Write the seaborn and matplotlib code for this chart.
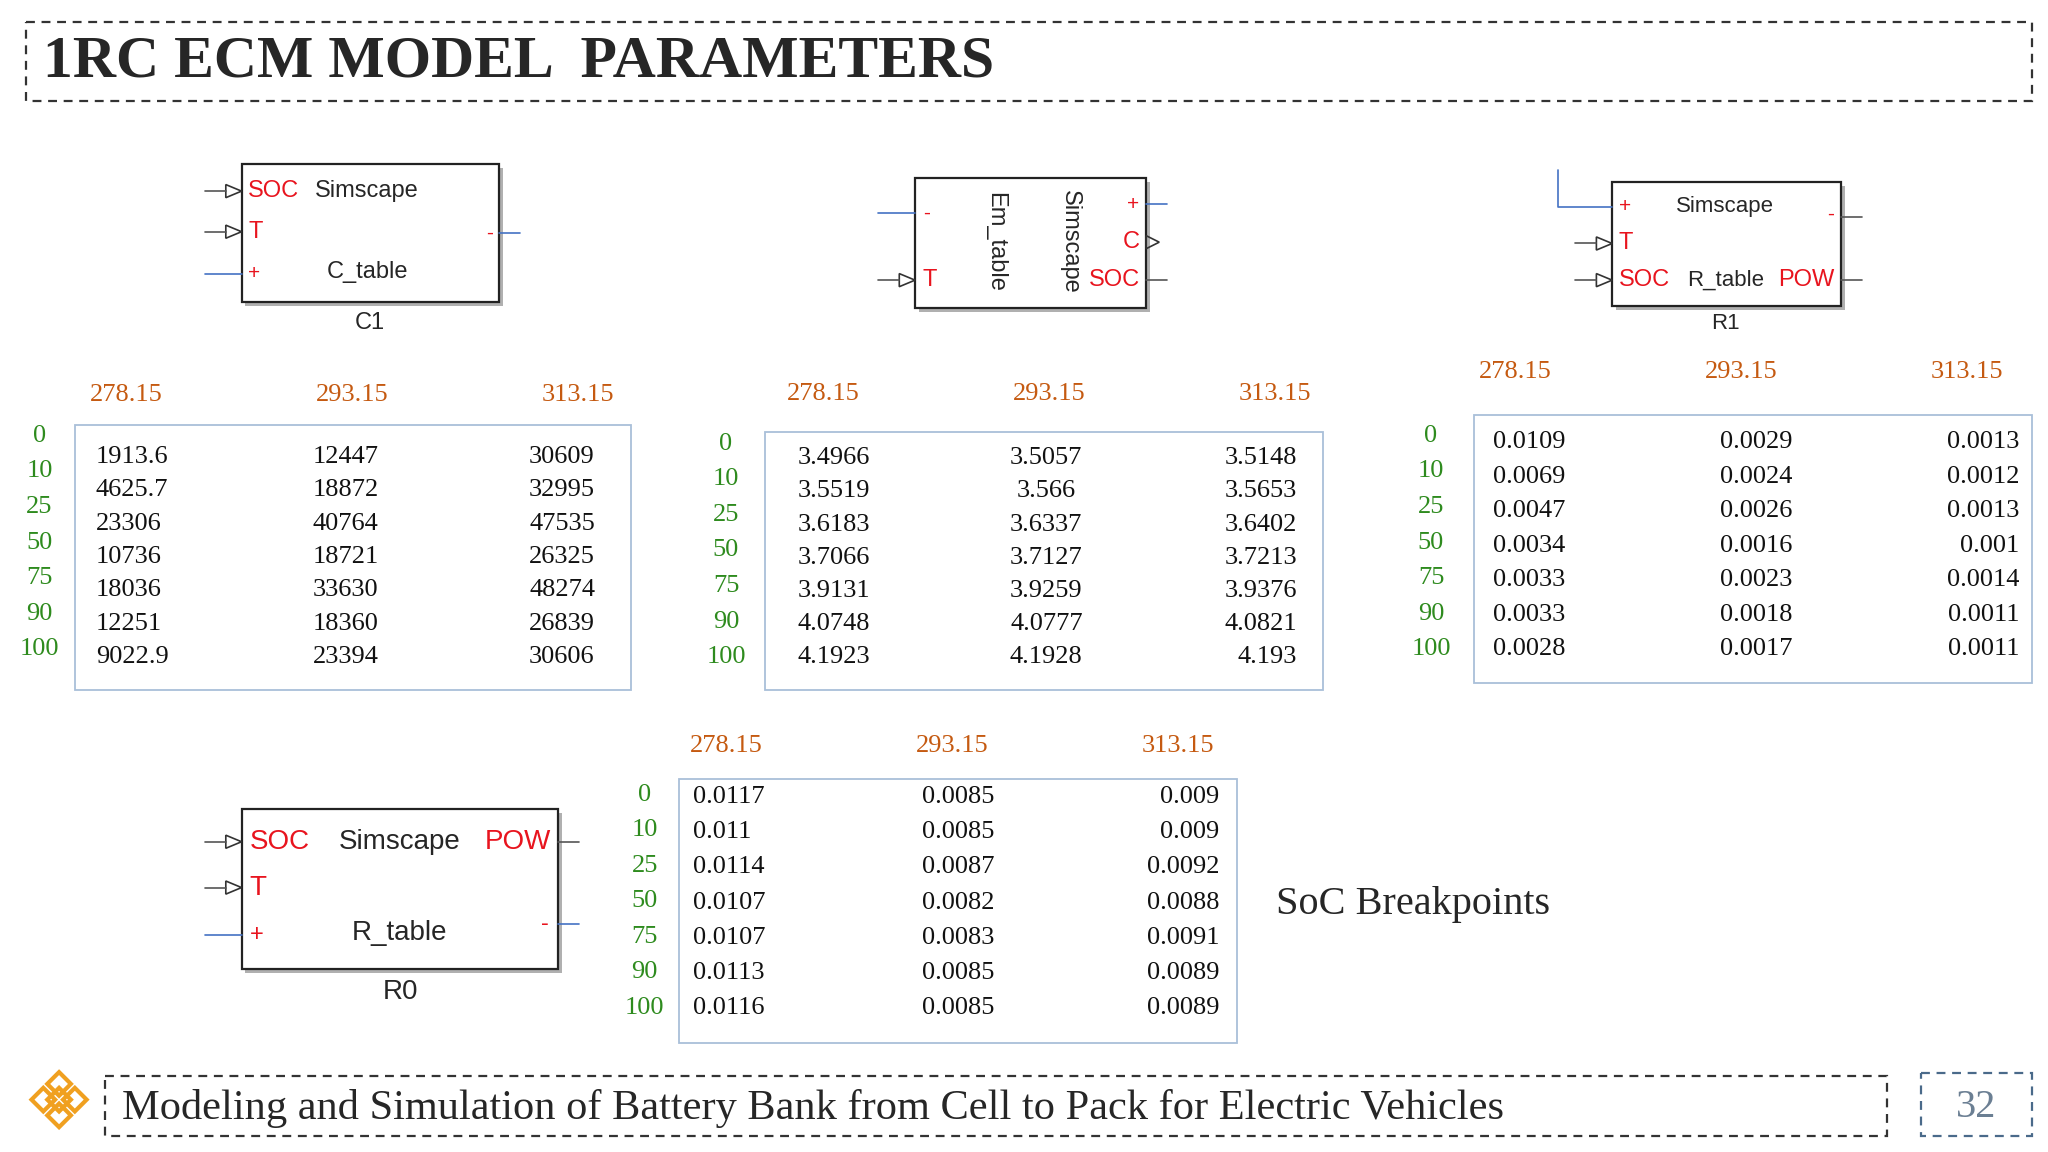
"""
Recreate the '1RC ECM MODEL PARAMETERS' slide with seaborn/matplotlib.
"""
import matplotlib
matplotlib.use("Agg")
import matplotlib.pyplot as plt
import matplotlib.patches as mpatches
import seaborn as sns

sns.set_style("white")
plt.rcParams['font.family'] = ['Liberation Serif', 'DejaVu Serif']

# ---- data ----
temps = ["278.15", "293.15", "313.15"]
soc_breakpoints = ["0", "10", "25", "50", "75", "90", "100"]

c1_table = [["1913.6", "12447", "30609"], ["4625.7", "18872", "32995"],
            ["23306", "40764", "47535"], ["10736", "18721", "26325"],
            ["18036", "33630", "48274"], ["12251", "18360", "26839"],
            ["9022.9", "23394", "30606"]]
em_table = [["3.4966", "3.5057", "3.5148"], ["3.5519", "3.566", "3.5653"],
            ["3.6183", "3.6337", "3.6402"], ["3.7066", "3.7127", "3.7213"],
            ["3.9131", "3.9259", "3.9376"], ["4.0748", "4.0777", "4.0821"],
            ["4.1923", "4.1928", "4.193"]]
r1_table = [["0.0109", "0.0029", "0.0013"], ["0.0069", "0.0024", "0.0012"],
            ["0.0047", "0.0026", "0.0013"], ["0.0034", "0.0016", "0.001"],
            ["0.0033", "0.0023", "0.0014"], ["0.0033", "0.0018", "0.0011"],
            ["0.0028", "0.0017", "0.0011"]]
r0_table = [["0.0117", "0.0085", "0.009"], ["0.011", "0.0085", "0.009"],
            ["0.0114", "0.0087", "0.0092"], ["0.0107", "0.0082", "0.0088"],
            ["0.0107", "0.0083", "0.0091"], ["0.0113", "0.0085", "0.0089"],
            ["0.0116", "0.0085", "0.0089"]]

title = "1RC ECM MODEL  PARAMETERS"
footer = "Modeling and Simulation of Battery Bank from Cell to Pack for Electric Vehicles"
page = "32"

ORANGE = "#c55a11"
GREEN = "#2e8b1e"
RED = "#e8141e"
BLUE = "#4472c4"
BOXEDGE = "#a9bfd9"

fig = plt.figure(figsize=(20.48, 11.52), dpi=100)
ax = fig.add_axes([0, 0, 1, 1])
ax.set_xlim(0, 1560)
ax.set_ylim(880, 0)
ax.axis("off")


def dashed_box(x0, y0, x1, y1, color="#333333"):
    ax.add_patch(mpatches.Rectangle((x0, y0), x1 - x0, y1 - y0, fill=False,
                                    ec=color, lw=1.6, ls=(0, (4, 3))))


def table(box, hx, hy, lx, ly, vy, cols, data):
    x0, y0, x1, y1 = box
    ax.add_patch(mpatches.Rectangle((x0, y0), x1 - x0, y1 - y0, fill=False,
                                    ec=BOXEDGE, lw=1.3))
    for t, x in zip(temps, hx):
        ax.text(x, hy, t, color=ORANGE, fontsize=19, ha="center", va="center")
    step_l = (ly[1] - ly[0]) / 6
    step_v = (vy[1] - vy[0]) / 6
    for i, s in enumerate(soc_breakpoints):
        ax.text(lx, ly[0] + i * step_l, s, color=GREEN, fontsize=19,
                ha="center", va="center")
        for j, (cx, ha) in enumerate(cols):
            ax.text(cx, vy[0] + i * step_v, data[i][j], color="#111111",
                    fontsize=19, ha=ha, va="center")


def block(x0, y0, x1, y1):
    ax.add_patch(mpatches.Rectangle((x0 + 3, y0 + 3), x1 - x0, y1 - y0,
                                    fc="#b0b0b0", ec="none"))
    ax.add_patch(mpatches.Rectangle((x0, y0), x1 - x0, y1 - y0,
                                    fc="white", ec="#222222", lw=1.6))


def port_in(x, y, arrow=True, color="#555555"):
    ax.plot([x - 28, x - 12 if arrow else x], [y, y], color=color, lw=1.2)
    if arrow:
        ax.add_patch(mpatches.Polygon([[x - 12, y - 5], [x - 12, y + 5], [x, y]],
                                      fill=False, ec="#333333", lw=1.2))


def port_out(x, y, color=BLUE):
    ax.plot([x, x + 16], [y, y], color=color, lw=1.2)


sans = ['Liberation Sans', 'DejaVu Sans']

# title / footer
dashed_box(20, 17, 1548, 77)
ax.text(33, 48, title, fontsize=43, fontweight="bold", va="center")
dashed_box(80, 822, 1437, 868)
ax.text(93, 847, footer, fontsize=30.5, va="center")
dashed_box(1463, 820, 1548, 868, color="#4a6a8a")
ax.text(1505, 846, page, fontsize=29, color="#6b7f93", ha="center", va="center")
# logo
for dx, dy in [(0, -12), (-12, 0), (12, 0), (0, 12), (0, 0)]:
    ax.add_patch(mpatches.RegularPolygon((45 + dx, 840 + dy), 4, radius=9,
                                         fill=False, ec="#f0a020", lw=3))

# C1 block
block(184, 125, 380, 231)
port_in(184, 146); port_in(184, 177); port_in(184, 209, arrow=False, color=BLUE)
port_out(380, 178)
ax.text(189, 146, "SOC", color=RED, fontsize=17, family=sans, va="center")
ax.text(240, 146, "Simscape", fontsize=17, family=sans, va="center")
ax.text(189, 177, "T", color=RED, fontsize=17, family=sans, va="center")
ax.text(189, 209, "+", color=RED, fontsize=15, family=sans, va="center")
ax.text(249, 208, "C_table", fontsize=17, family=sans, va="center")
ax.text(370, 178, "-", color=RED, fontsize=15, family=sans, va="center")
ax.text(282, 247, "C1", fontsize=17, family=sans, ha="center", va="center")

# Em block
block(697, 136, 873, 235)
port_in(697, 163, arrow=False, color=BLUE); port_in(697, 214)
port_out(873, 156); port_out(873, 214, color="#555555")
ax.add_patch(mpatches.Polygon([[873, 180], [873, 190], [883, 185]],
                              fill=False, ec="#333333", lw=1.2))
ax.text(703, 163, "-", color=RED, fontsize=15, family=sans, va="center")
ax.text(703, 214, "T", color=RED, fontsize=17, family=sans, va="center")
ax.text(758, 185, "Em_table", fontsize=17, family=sans, rotation=270,
        ha="center", va="center")
ax.text(815, 185, "Simscape", fontsize=17, family=sans, rotation=270,
        ha="center", va="center")
ax.text(868, 156, "+", color=RED, fontsize=15, family=sans, ha="right", va="center")
ax.text(868, 185, "C", color=RED, fontsize=17, family=sans, ha="right", va="center")
ax.text(868, 214, "SOC", color=RED, fontsize=17, family=sans, ha="right", va="center")

# R1 block
block(1228, 139, 1402, 234)
ax.plot([1187, 1187, 1228], [130, 158, 158], color=BLUE, lw=1.2)
port_in(1228, 186); port_in(1228, 214)
port_out(1402, 166, color="#555555"); port_out(1402, 214, color="#555555")
ax.text(1233, 158, "+", color=RED, fontsize=15, family=sans, va="center")
ax.text(1314, 158, "Simscape", fontsize=16, family=sans, ha="center", va="center")
ax.text(1233, 186, "T", color=RED, fontsize=17, family=sans, va="center")
ax.text(1233, 214, "SOC", color=RED, fontsize=17, family=sans, va="center")
ax.text(1285, 214, "R_table", fontsize=16, family=sans, va="center")
ax.text(1397, 214, "POW", color=RED, fontsize=17, family=sans, ha="right", va="center")
ax.text(1397, 164, "-", color=RED, fontsize=15, family=sans, ha="right", va="center")
ax.text(1314, 247, "R1", fontsize=16, family=sans, ha="center", va="center")

# R0 block
block(184, 618, 425, 740)
port_in(184, 643); port_in(184, 678); port_in(184, 714, arrow=False, color=BLUE)
port_out(425, 643, color="#555555"); port_out(425, 706)
ax.text(190, 643, "SOC", color=RED, fontsize=20, family=sans, va="center")
ax.text(258, 643, "Simscape", fontsize=20, family=sans, va="center")
ax.text(420, 643, "POW", color=RED, fontsize=20, family=sans, ha="right", va="center")
ax.text(190, 678, "T", color=RED, fontsize=20, family=sans, va="center")
ax.text(190, 714, "+", color=RED, fontsize=17, family=sans, va="center")
ax.text(268, 713, "R_table", fontsize=20, family=sans, va="center")
ax.text(418, 706, "-", color=RED, fontsize=17, family=sans, ha="right", va="center")
ax.text(305, 758, "R0", fontsize=20, family=sans, ha="center", va="center")

# tables
table((57, 325, 481, 527), [96, 268, 440], 302, 30, (333, 496), (349, 502),
      [(73, "left"), (238, "left"), (403, "left")], c1_table)
table((583, 330, 1008, 527), [627, 799, 971], 301, 553, (339, 502), (350, 502),
      [(635, "center"), (797, "center"), (988, "right")], em_table)
table((1123, 317, 1548, 522), [1154, 1326, 1498], 284, 1090, (333, 496), (338, 496),
      [(1137, "left"), (1338, "center"), (1538, "right")], r1_table)
table((517, 595, 942, 797), [553, 725, 897], 570, 491, (607, 770), (609, 770),
      [(528, "left"), (730, "center"), (929, "right")], r0_table)

ax.text(972, 691, "SoC Breakpoints", fontsize=29, va="center")

fig.savefig("out.png", dpi=100)
